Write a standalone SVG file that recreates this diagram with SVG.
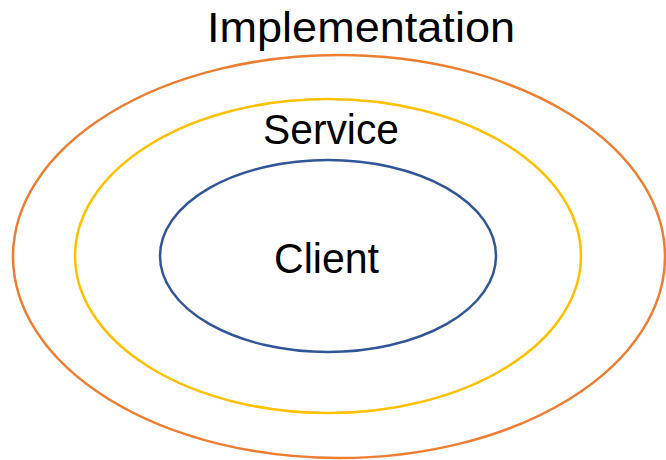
<svg xmlns="http://www.w3.org/2000/svg" width="666" height="460" viewBox="0 0 666 460">
  <style>
    .ring { fill: none; stroke-width: 2.5; }
    .lbl { font-family: "Liberation Sans", Arial, sans-serif; font-size: 42px; fill: #000; text-anchor: middle; }
  </style>
  <rect width="666" height="460" fill="#fff"/>
  <g id="implementation">
    <ellipse class="ring" cx="339" cy="256.5" rx="326" ry="201.5" stroke="#ED7D31"/>
    <text class="lbl" x="361" y="42" textLength="308" lengthAdjust="spacingAndGlyphs">Implementation</text>
  </g>
  <g id="service">
    <ellipse class="ring" cx="328" cy="256" rx="253" ry="157" stroke="#FFC000"/>
    <text class="lbl" x="331" y="144" textLength="136" lengthAdjust="spacingAndGlyphs">Service</text>
  </g>
  <g id="client">
    <ellipse class="ring" cx="328" cy="256" rx="168" ry="96" stroke="#2F5597"/>
    <text class="lbl" x="326.5" y="272.5" textLength="105" lengthAdjust="spacingAndGlyphs">Client</text>
  </g>
  <g id="connectors"/>
</svg>
